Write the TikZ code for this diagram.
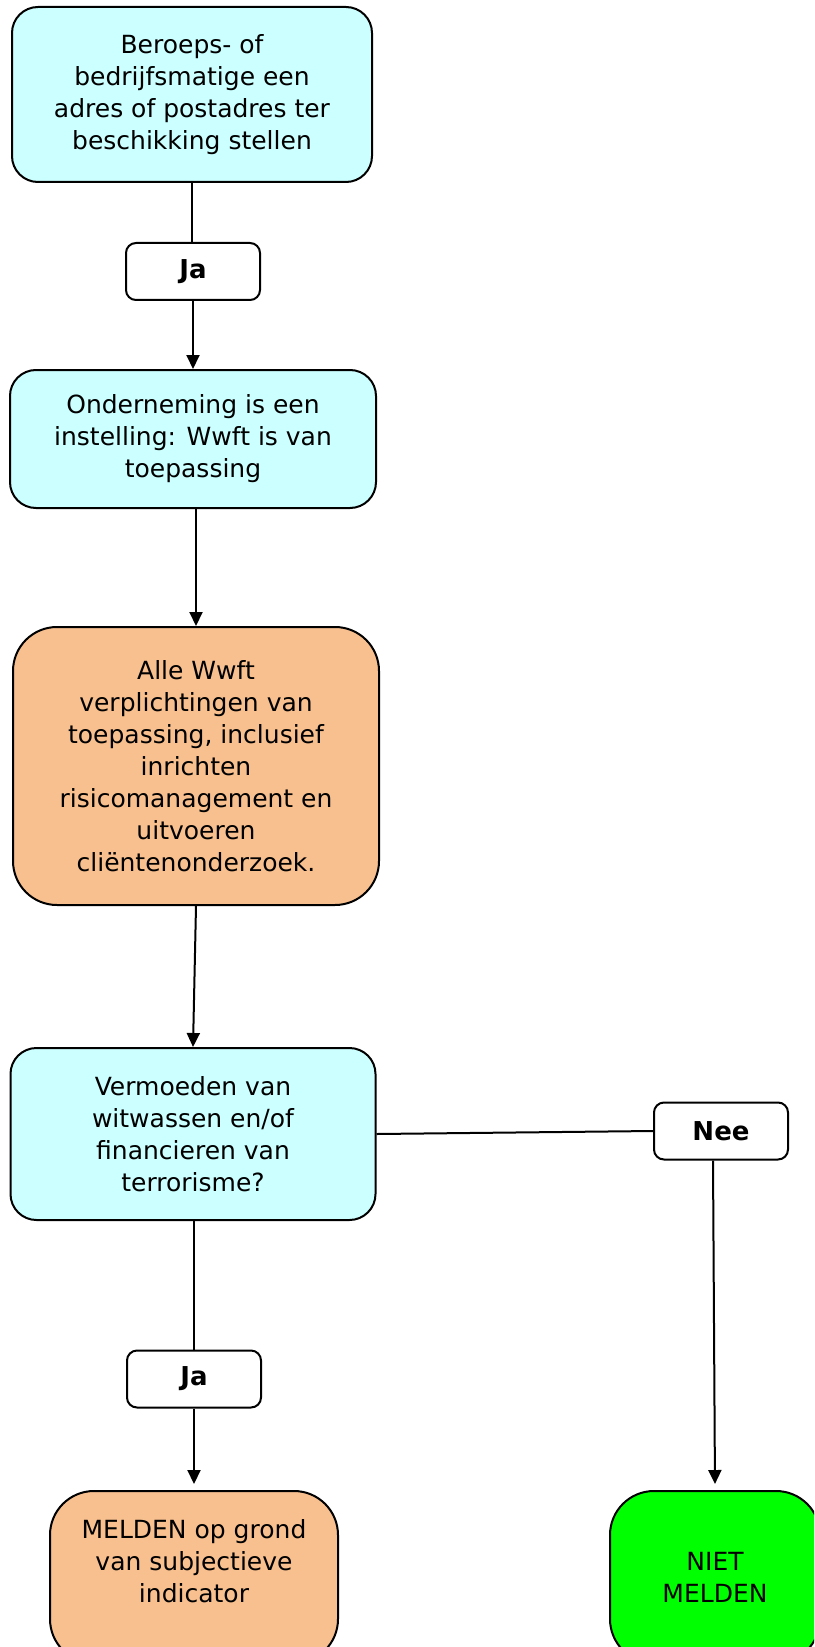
\documentclass[tikz,border=0pt]{standalone}
\usepackage{fontspec}
\setmainfont{DejaVu Sans}
\usetikzlibrary{positioning, arrows.meta}
\definecolor{QuestionColor}{RGB}{204,255,255}
\definecolor{ActionColor}{RGB}{249,192,143}
\definecolor{ClearColor}{RGB}{0,255,0}
\tikzstyle{arrow} = [line width=1pt, black, -{Triangle[length=7pt,width=6.5pt]}]
\tikzstyle{link} = [line width=1pt, black]
\tikzset{
  flowbox/.style={rectangle, draw=black, line width=1pt, align=center, inner sep=0pt, font=\fontsize{12.5}{16}\selectfont},
  question/.style={flowbox, fill=QuestionColor, rounded corners=13pt},
  action/.style={flowbox, fill=ActionColor, rounded corners=22pt},
  clear/.style={flowbox, fill=ClearColor, rounded corners=22pt},
  answer/.style={rectangle, draw=black, line width=1pt, fill=white, rounded corners=5pt, minimum width=67pt, minimum height=28.5pt, font=\fontsize{13}{16}\selectfont\bfseries}
}
\begin{document}
\begin{tikzpicture}[x=0.5pt, y=-0.5pt]
  \useasboundingbox (0,0) rectangle (814,1647);
  \clip (0,0) rectangle (814,1647);

  % Start
  \node[question, minimum width=180pt, minimum height=87.5pt] (adres) at (192,94.5)
    {Beroeps- of\\bedrijfsmatige een\\adres of postadres ter\\beschikking stellen};
  \node[answer] (ja1) at (193,271.5) {Ja};

  % Instelling
  \node[question, minimum width=183pt, minimum height=69pt] (instelling) at (193,439)
    {Onderneming is een\\instelling: Wwft is van\\toepassing};

  % Verplichtingen
  \node[action, minimum width=183pt, minimum height=139pt] (alle) at (196,766)
    {Alle Wwft\\verplichtingen van\\toepassing, inclusief\\inrichten\\risicomanagement en\\uitvoeren\\cliëntenonderzoek.};

  % Vermoeden
  \node[question, minimum width=182.5pt, minimum height=86pt] (vermoeden) at (193,1134)
    {Vermoeden van\\witwassen en/of\\financieren van\\terrorisme?};
  \node[answer] (nee) at (721,1131) {Nee};
  \node[answer] (ja2) at (194,1379) {Ja};

  % Uitkomsten
  \node[action, minimum width=144pt, minimum height=86pt, text depth=16pt] (melden) at (194,1577)
    {MELDEN op grond\\van subjectieve\\indicator};
  \node[clear, minimum width=105pt, minimum height=86pt] (niet) at (715,1577)
    {NIET\\MELDEN};

  % Verbindingen
  \draw[link] (adres.south) -- (adres.south |- ja1.north);
  \draw[arrow] (ja1.south) -- (instelling.north);
  \draw[arrow] (instelling.south -| alle.north) -- (alle.north);
  \draw[arrow] (alle.south) -- (vermoeden.north);
  \draw[link] (vermoeden.south -| ja2.north) -- (ja2.north);
  \draw[arrow, shorten >=3pt] (ja2.south) -- (melden.north);
  \draw[link] (vermoeden.east) -- (nee.west);
  \draw[arrow, shorten >=3pt] ([xshift=-4pt]nee.south) -- (niet.north);
\end{tikzpicture}
\end{document}
